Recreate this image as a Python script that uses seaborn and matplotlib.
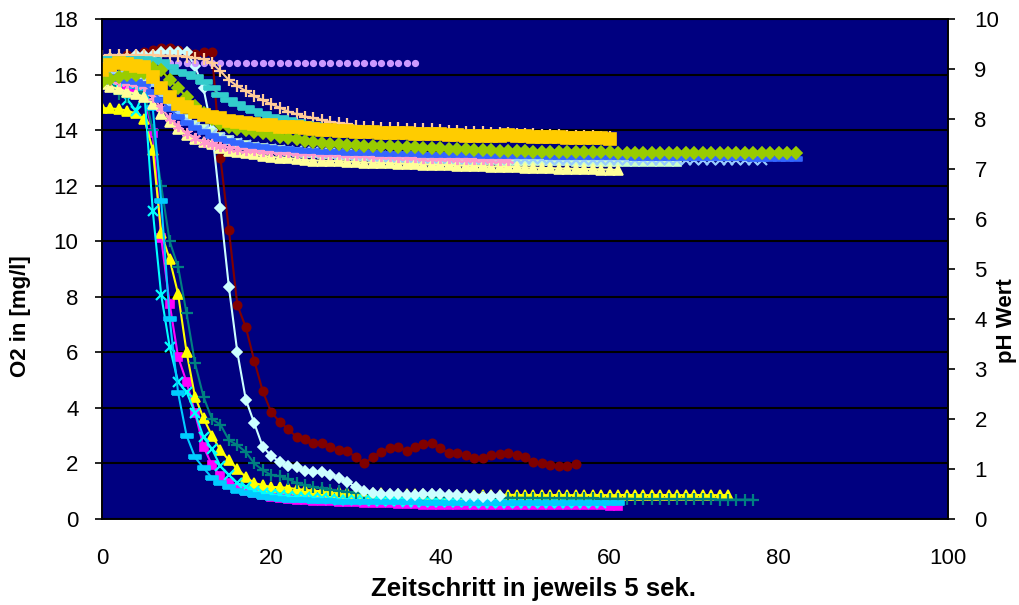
import numpy as np
import matplotlib
matplotlib.use("Agg")
import matplotlib.pyplot as plt
import seaborn as sns

sns.set_theme(style="white")
plt.rcParams["font.family"] = ["Liberation Sans", "DejaVu Sans"]

# ---- O2 readings [mg/l], one value per 5-second step (left axis) ----
o2_magenta = [16.2, 16.0, 15.8, 15.5, 15.3, 15.2, 13.9, 10.1, 7.74, 5.83,
              4.93, 3.82, 2.6, 1.94, 1.55, 1.3, 1.12, 1.0, 0.92, 0.86,
              0.8, 0.76, 0.72, 0.7, 0.68, 0.66, 0.65, 0.64, 0.62, 0.6,
              0.6, 0.58, 0.57, 0.56, 0.56, 0.55, 0.54, 0.53, 0.52, 0.52,
              0.52, 0.51, 0.51, 0.51, 0.5, 0.5, 0.5, 0.5, 0.5, 0.5,
              0.5, 0.5, 0.5, 0.49, 0.49, 0.49, 0.49, 0.49, 0.49, 0.49,
              0.48, 0.47]
o2_yellow = [14.8, 14.78, 14.76, 14.7, 14.6, 14.4, 13.3, 10.3, 9.35, 8.1,
             6.0, 4.4, 3.63, 3.0, 2.48, 2.12, 1.8, 1.51, 1.3, 1.22,
             1.15, 1.15, 1.12, 1.08, 1.05, 1.02, 1.0, 0.98, 0.96, 0.95,
             0.94, 0.93, 0.92, 0.92, 0.91, 0.9, 0.9, 0.9, 0.89, 0.89,
             0.89, 0.88, 0.88, 0.88, 0.88, 0.87, 0.87, 0.87, 0.87, 0.87,
             0.86, 0.87, 0.86, 0.86, 0.87, 0.86, 0.86, 0.86, 0.87, 0.86,
             0.86, 0.86, 0.87, 0.86, 0.86, 0.86, 0.87, 0.86, 0.86, 0.86,
             0.87, 0.86, 0.86, 0.86, 0.87]
o2_cyan = [16.0, 15.8, 15.5, 15.1, 14.7, 15.4, 11.1, 8.06, 6.2, 4.93,
           4.57, 3.82, 2.95, 2.52, 1.9, 1.58, 1.3, 1.15, 1.02, 0.95,
           0.9, 0.86, 0.82, 0.8, 0.78, 0.76, 0.74, 0.72, 0.7, 0.69,
           0.68, 0.67, 0.66, 0.65, 0.64, 0.64, 0.63, 0.62, 0.62, 0.61,
           0.61, 0.6, 0.6, 0.6, 0.59, 0.59, 0.59, 0.58, 0.58, 0.58,
           0.58, 0.57, 0.57, 0.57, 0.57, 0.56, 0.56, 0.56, 0.56, 0.56]
o2_maroon = [16.5, 16.6, 16.6, 16.7, 16.7, 16.8, 16.9, 16.95, 16.95, 16.9,
             16.8, 16.75, 16.8, 16.8, 13.0, 10.4, 7.7, 6.9, 5.7, 4.6,
             3.85, 3.5, 3.24, 2.95, 2.88, 2.75, 2.72, 2.58, 2.47, 2.45,
             2.22, 2.0, 2.22, 2.43, 2.55, 2.6, 2.45, 2.6, 2.7, 2.74,
             2.55, 2.37, 2.37, 2.3, 2.18, 2.2, 2.3, 2.34, 2.37, 2.3,
             2.22, 2.05, 2.0, 1.94, 1.92, 1.92, 1.97]
o2_teal = [15.8, 15.6, 15.3, 15.2, 15.3, 15.4, 14.0, 12.0, 10.0, 9.07,
           7.4, 5.6, 4.4, 3.6, 3.4, 2.84, 2.66, 2.41, 2.0, 1.76,
           1.58, 1.55, 1.44, 1.3, 1.22, 1.15, 1.1, 1.06, 1.02, 0.98,
           0.95, 0.93, 0.9, 0.88, 0.86, 0.85, 0.84, 0.83, 0.83, 0.82,
           0.8, 0.8, 0.79, 0.79, 0.78, 0.78, 0.78, 0.77, 0.77, 0.76,
           0.76, 0.76, 0.75, 0.75, 0.75, 0.74, 0.74, 0.74, 0.74, 0.73,
           0.73, 0.73, 0.73, 0.72, 0.72, 0.72, 0.72, 0.72, 0.71, 0.71,
           0.71, 0.71, 0.71, 0.7, 0.7, 0.7, 0.7, 0.7]
o2_sky = [16.1, 16.0, 15.9, 15.8, 15.6, 15.5, 14.8, 11.45, 7.2, 4.54,
          3.0, 2.22, 1.84, 1.48, 1.3, 1.15, 1.02, 0.92, 0.85, 0.8,
          0.76, 0.72, 0.7, 0.68, 0.67, 0.66, 0.65, 0.64, 0.63, 0.63,
          0.62, 0.62, 0.61, 0.61, 0.6, 0.6, 0.6, 0.6, 0.59, 0.59,
          0.59, 0.59, 0.59, 0.58, 0.58, 0.58, 0.58, 0.58, 0.58, 0.58,
          0.57, 0.57, 0.57, 0.57, 0.57, 0.57, 0.57, 0.56, 0.56, 0.56,
          0.56, 0.56]
o2_ice = [16.5, 16.6, 16.6, 16.6, 16.7, 16.7, 16.7, 16.8, 16.8, 16.8,
          16.8, 16.3, 15.5, 14.0, 11.2, 8.35, 6.0, 4.3, 3.45, 2.6,
          2.28, 2.05, 1.9, 1.86, 1.74, 1.7, 1.68, 1.57, 1.48, 1.34,
          1.15, 1.02, 0.95, 0.9, 0.9, 0.9, 0.86, 0.86, 0.9, 0.9,
          0.9, 0.86, 0.86, 0.83, 0.83, 0.8, 0.83, 0.83]

# ---- pH readings (right axis) ----
ph_lightgreen = [8.86, 8.85, 8.84, 8.83, 8.82, 8.8, 8.74, 8.55, 8.35, 8.15,
                 8.0, 7.88, 7.8, 7.72, 7.65, 7.58, 7.52, 7.48, 7.45, 7.42,
                 7.4, 7.38, 7.36, 7.34, 7.33, 7.32, 7.31, 7.3, 7.29, 7.28,
                 7.27, 7.26, 7.25, 7.24, 7.23, 7.22, 7.22, 7.21, 7.2, 7.2,
                 7.2, 7.19, 7.19, 7.19, 7.18, 7.18, 7.18, 7.17, 7.17, 7.17,
                 7.17, 7.16, 7.16, 7.16, 7.16, 7.16, 7.15, 7.15, 7.15, 7.15,
                 7.15, 7.15, 7.14, 7.14, 7.14, 7.14, 7.14, 7.14, 7.14]
ph_lightyellow = [8.7, 8.65, 8.6, 8.55, 8.5, 8.45, 8.3, 8.1, 7.95, 7.8,
                  7.68, 7.6, 7.54, 7.5, 7.42, 7.36, 7.34, 7.32, 7.3, 7.27,
                  7.24, 7.23, 7.22, 7.2, 7.18, 7.17, 7.17, 7.16, 7.16, 7.15,
                  7.14, 7.13, 7.13, 7.12, 7.12, 7.11, 7.1, 7.1, 7.09, 7.09,
                  7.08, 7.08, 7.07, 7.07, 7.06, 7.06, 7.05, 7.05, 7.04, 7.04,
                  7.03, 7.03, 7.02, 7.02, 7.01, 7.01, 7.0, 7.0, 7.0, 6.99,
                  6.99, 6.98]
ph_paleblue = [8.95, 8.93, 8.9, 8.88, 8.86, 8.84, 8.7, 8.5, 8.3, 8.12,
               7.98, 7.86, 7.78, 7.7, 7.63, 7.57, 7.52, 7.48, 7.45, 7.42,
               7.4, 7.38, 7.37, 7.36, 7.35, 7.34, 7.33, 7.32, 7.31, 7.3,
               7.29, 7.28, 7.27, 7.26, 7.25, 7.25, 7.24, 7.24, 7.23, 7.23,
               7.22, 7.22, 7.22, 7.21, 7.21, 7.21, 7.21, 7.2, 7.2, 7.2,
               7.2, 7.2, 7.2, 7.19, 7.19, 7.19, 7.19, 7.19, 7.19, 7.19,
               7.19, 7.19, 7.18, 7.18, 7.18, 7.18, 7.18, 7.18, 7.18, 7.18,
               7.18, 7.18, 7.18, 7.18, 7.18, 7.18, 7.18, 7.18, 7.18]
ph_rose = [8.8, 8.78, 8.76, 8.72, 8.7, 8.66, 8.45, 8.22, 8.02, 7.86,
           7.72, 7.62, 7.55, 7.5, 7.46, 7.43, 7.41, 7.39, 7.38, 7.37,
           7.36, 7.35, 7.34, 7.33, 7.32, 7.32, 7.31, 7.3, 7.3, 7.29,
           7.28, 7.28, 7.27, 7.26, 7.26, 7.25, 7.24, 7.24, 7.23, 7.23,
           7.22, 7.22, 7.21, 7.21, 7.2, 7.2, 7.19, 7.19, 7.18]
ph_lavender = [9.14, 9.14, 9.14, 9.13, 9.13, 9.13, 9.13, 9.13, 9.13, 9.13,
               9.13, 9.13, 9.13, 9.13, 9.12, 9.12, 9.12, 9.12, 9.12, 9.12,
               9.12, 9.12, 9.12, 9.12, 9.12, 9.12, 9.12, 9.12, 9.12, 9.12,
               9.12, 9.12, 9.12, 9.12, 9.12, 9.12, 9.12, 9.12]
ph_tan = [9.26, 9.28, 9.28, 9.28, 9.28, 9.28, 9.28, 9.27, 9.27, 9.26,
          9.25, 9.22, 9.2, 9.12, 8.96, 8.78, 8.66, 8.56, 8.46, 8.38,
          8.3, 8.23, 8.15, 8.1, 8.05, 8.02, 7.98, 7.94, 7.92, 7.9,
          7.86, 7.84, 7.84, 7.82, 7.82, 7.82, 7.81, 7.8, 7.8, 7.8,
          7.78, 7.77, 7.76, 7.75, 7.74, 7.74, 7.73, 7.72, 7.72, 7.71,
          7.7, 7.7, 7.69, 7.68, 7.68, 7.67, 7.67, 7.66, 7.66, 7.65,
          7.65]
ph_blue = [8.9, 8.85, 8.8, 8.76, 8.75, 8.7, 8.55, 8.38, 8.2, 8.05,
           7.92, 7.82, 7.74, 7.66, 7.6, 7.56, 7.52, 7.48, 7.46, 7.44,
           7.42, 7.41, 7.4, 7.38, 7.37, 7.36, 7.35, 7.34, 7.34, 7.33,
           7.33, 7.32, 7.32, 7.31, 7.31, 7.3, 7.3, 7.3, 7.29, 7.29,
           7.29, 7.28, 7.28, 7.28, 7.28, 7.27, 7.27, 7.27, 7.27, 7.26,
           7.26, 7.26, 7.26, 7.25, 7.25, 7.25, 7.25, 7.25, 7.24, 7.24,
           7.24, 7.24, 7.24, 7.23, 7.23, 7.23, 7.23, 7.23, 7.23, 7.22,
           7.22, 7.22, 7.22, 7.22, 7.22, 7.22, 7.22, 7.21, 7.21, 7.21,
           7.21, 7.21, 7.21]
ph_turquoise = [9.2, 9.2, 9.2, 9.2, 9.2, 9.2, 9.18, 9.15, 9.05, 8.95,
                8.9, 8.84, 8.74, 8.62, 8.48, 8.38, 8.3, 8.23, 8.16, 8.1,
                8.05, 8.02, 7.98, 7.94, 7.9, 7.88, 7.86, 7.84, 7.83, 7.82,
                7.81, 7.8, 7.79, 7.78, 7.78, 7.77, 7.76, 7.76, 7.75, 7.75,
                7.74]
ph_green = [8.74, 8.8, 8.84, 8.88, 8.88, 8.92, 9.02, 8.98, 8.78, 8.62,
            8.44, 8.26, 8.12, 8.0, 7.9, 7.84, 7.8, 7.78, 7.74, 7.72,
            7.68, 7.64, 7.62, 7.6, 7.57, 7.54, 7.52, 7.51, 7.5, 7.49,
            7.48, 7.47, 7.47, 7.46, 7.46, 7.45, 7.45, 7.44, 7.43, 7.43,
            7.42, 7.41, 7.4, 7.4, 7.39, 7.38, 7.38, 7.37, 7.36, 7.36,
            7.36, 7.35, 7.35, 7.35, 7.34, 7.34, 7.34, 7.34, 7.34, 7.34,
            7.34, 7.33, 7.33, 7.33, 7.33, 7.33, 7.33, 7.33, 7.33, 7.33,
            7.33, 7.32, 7.32, 7.32, 7.32, 7.32, 7.32, 7.32, 7.32, 7.32,
            7.32, 7.32, 7.32]
ph_gold = [8.98, 9.08, 9.12, 9.1, 9.06, 9.04, 8.84, 8.62, 8.44, 8.3,
           8.24, 8.14, 8.08, 8.04, 8.02, 7.96, 7.94, 7.92, 7.9, 7.88,
           7.88, 7.84, 7.84, 7.84, 7.82, 7.8, 7.78, 7.78, 7.76, 7.76,
           7.75, 7.74, 7.74, 7.73, 7.72, 7.72, 7.72, 7.71, 7.7, 7.7,
           7.7, 7.68, 7.68, 7.67, 7.66, 7.66, 7.66, 7.67, 7.68, 7.67,
           7.66, 7.65, 7.64, 7.64, 7.64, 7.63, 7.63, 7.62, 7.62, 7.62,
           7.6]

x_ticks = [0, 20, 40, 60, 80, 100]
o2_ticks = [0, 2, 4, 6, 8, 10, 12, 14, 16, 18]
ph_ticks = [0, 1, 2, 3, 4, 5, 6, 7, 8, 9, 10]

# bar-shaped markers (short and long dash) and an asterisk
DASH = [(-1, -0.4), (1, -0.4), (1, 0.4), (-1, 0.4), (-1, -0.4)]
LONG_DASH = [(-1, -0.22), (1, -0.22), (1, 0.22), (-1, 0.22), (-1, -0.22)]
STAR = (6, 2, 0)


def draw(ax, values, color, marker, ms=6.0, lw=1.5, ls="-", mew=1.2):
    steps = np.arange(len(values))
    sns.lineplot(x=steps, y=values, ax=ax, color=color, marker=marker,
                 markersize=ms, markerfacecolor=color, markeredgecolor=color,
                 markeredgewidth=mew, linewidth=lw, linestyle=ls,
                 errorbar=None, legend=False)


fig = plt.figure(figsize=(10.2, 6.05), dpi=100)
fig.patch.set_facecolor("white")
ax = fig.add_axes([0.1, 0.1421, 0.8294, 0.8264])
ax.set_facecolor("#000080")
ax2 = ax.twinx()

# O2 curves
draw(ax, o2_magenta, "#FF00FF", "s", ms=6)
draw(ax, o2_yellow, "#FFFF00", "^", ms=6.5)
draw(ax, o2_cyan, "#00FFFF", "x", ms=7, mew=1.6)
draw(ax, o2_maroon, "#800000", "o", ms=6)
draw(ax, o2_teal, "#008080", "+", ms=8, mew=1.6)
draw(ax, o2_sky, "#00CCFF", DASH, ms=8)
draw(ax, o2_ice, "#CCFFFF", "D", ms=5)

# pH curves
draw(ax2, ph_lightgreen, "#CCFFCC", "s", ms=6)
draw(ax2, ph_lightyellow, "#FFFF99", "^", ms=6.5)
draw(ax2, ph_paleblue, "#99CCFF", "x", ms=7, mew=1.6)
draw(ax2, ph_rose, "#FF99CC", STAR, ms=8, mew=1.4)
draw(ax2, ph_lavender, "#CC99FF", "o", ms=4, ls="none")
draw(ax2, ph_tan, "#FFCC99", "+", ms=9, mew=1.6)
draw(ax2, ph_blue, "#3366FF", DASH, ms=8)
draw(ax2, ph_turquoise, "#33CCCC", LONG_DASH, ms=11)
draw(ax2, ph_green, "#99CC00", "D", ms=6)
draw(ax2, ph_gold, "#FFCC00", "s", ms=8)

# axes, ticks and grid
ax.set_xlim(0, 100)
ax.set_ylim(0, 18)
ax2.set_ylim(0, 10)
ax.set_xticks(x_ticks)
ax.set_yticks(o2_ticks)
ax2.set_yticks(ph_ticks)
ax.yaxis.grid(True, color="black", linewidth=1.5)
ax.xaxis.grid(False)
ax2.grid(False)
ax.set_axisbelow(True)

for a in (ax, ax2):
    for side in ("left", "right", "top", "bottom"):
        a.spines[side].set_color("black")
        a.spines[side].set_linewidth(1.2)
    a.tick_params(axis="both", which="major", direction="out", length=5,
                  width=1.2, color="black", labelsize=16, labelcolor="black")
ax.tick_params(axis="x", pad=16)
ax.tick_params(axis="y", left=True, pad=12)
ax2.tick_params(axis="y", right=True, pad=14)

ax.set_xlabel("Zeitschritt in jeweils 5 sek.", fontsize=18.5,
              fontweight="bold", color="black")
ax.xaxis.set_label_coords(0.51, -0.115)
ax.set_ylabel("O2 in [mg/l]", fontsize=16, fontweight="bold", color="black")
ax.yaxis.set_label_coords(-0.084, 0.406)
ax2.set_ylabel("pH Wert", fontsize=16, fontweight="bold", color="black")
ax2.yaxis.set_label_coords(1.057, 0.396)

fig.savefig("out.png", dpi=100, facecolor="white")
